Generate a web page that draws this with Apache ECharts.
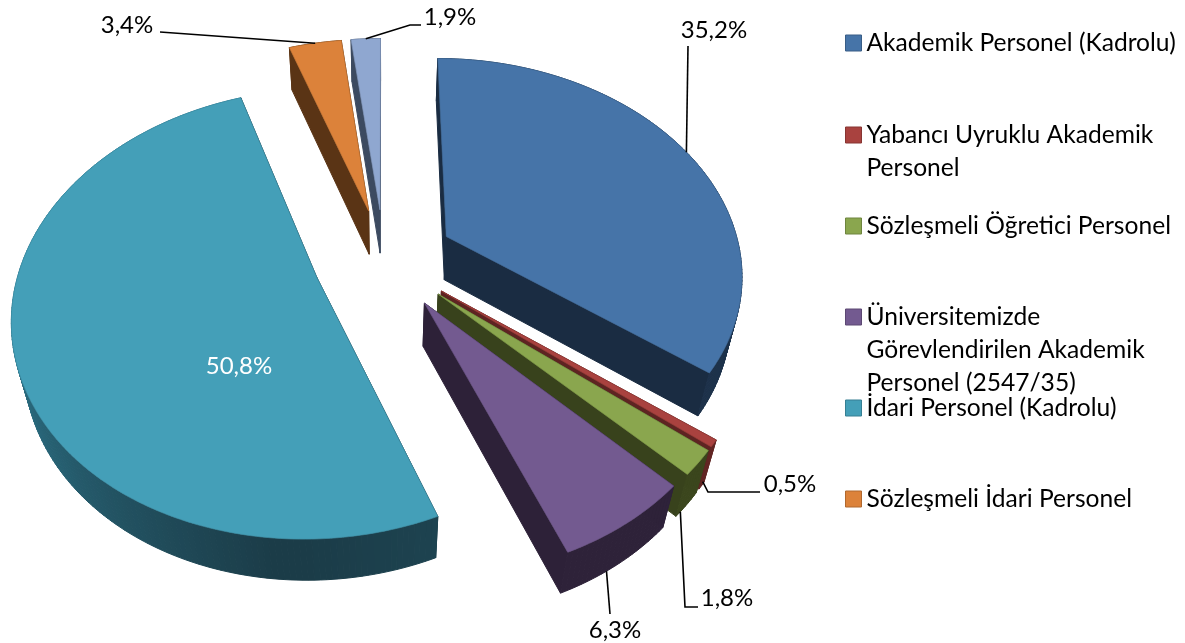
<!DOCTYPE html>
<html><head><meta charset="utf-8">
<style>html,body{margin:0;padding:0;background:#fff}#c{width:1185px;height:643px}</style>
<script src="https://cdn.jsdelivr.net/npm/echarts@6/dist/echarts.min.js"></script>
</head><body><div id="c"></div>
<script>
const categories = ['Akademik Personel (Kadrolu)','Yabancı Uyruklu Akademik\nPersonel','Sözleşmeli Öğretici Personel','Üniversitemizde\nGörevlendirilen Akademik\nPersonel (2547/35)','İdari Personel (Kadrolu)','Sözleşmeli İdari Personel','Diğer Personel'];
const shares = [35.2,0.5,1.8,6.3,50.8,3.4,1.9];
const topColors = ['#4674a8','#a9423f','#8aa64e','#735a90','#449fb8','#dc823a','#8fa7d0'];
const wallColors = ['#1a2c42','#5e2422','#38421c','#2d2138','#1b3c48','#5a3415','#3c4a60'];
const rimColors = ['#24405f','#6e2a28','#46521f','#33263f','#2f7a90','#6a3e18','#46566f'];
const legendRows = [43,135,226,317,408,499];
const drawOrder = [6,5,4,0,1,2,3];
const FONT = 'Lato, "Open Sans", sans-serif';
const cam = {cx:384,cy:259,f:1327,xs:0.979,D:4.4,tilt:45*Math.PI/180,explode:0.24,h:0.21};
const st=Math.sin(cam.tilt), ct=Math.cos(cam.tilt);
const total = shares.reduce((a,b)=>a+b,0);
const startOf = i => shares.slice(0,i).reduce((a,b)=>a+b,0);
function P(X,Y,Z){const w=cam.D+Y*ct-Z*st;return [cam.cx+cam.xs*cam.f*X/w,cam.cy-cam.f*(Y*st+Z*ct)/w];}
function mix(a,b,t){const p=c=>[1,3,5].map(k=>parseInt(c.substr(k,2),16));const A=p(a),B=p(b);return 'rgb('+A.map((v,i)=>Math.round(v+(B[i]-v)*t)).join(',')+')';}
const pct = v => v.toFixed(1).replace('.',',')+'%';
const labelSpecs = {
 0:{text:[714,30],elbows:[[688,46]],at:[0.505,1,0]},
 1:{text:[790,484],elbows:[[708,492],[760,492]],at:[0.5,1,-0.9]},
 2:{text:[727,598],elbows:[[685,607],[698,607]],at:[0.8,1,-1]},
 3:{text:[615,630],elbows:[[610,614]],at:[0.6,1,-1]},
 4:{text:[239,366],white:true},
 5:{text:[127,25],elbows:[[160,32]],at:[0.5,1,0]},
 6:{text:[450,17],elbows:[[410,25],[421,25]],at:[0.5,1,0]}
};
function renderSlice(params,api){
  const idx = api.value(1);
  const v = api.value(0), s0 = api.value(2);
  const a0 = s0/total*2*Math.PI, a1=(s0+v)/total*2*Math.PI, mid=(a0+a1)/2;
  const ox=cam.explode*Math.sin(mid), oy=cam.explode*Math.cos(mid);
  const pt=(a,r,z)=>P(ox+r*Math.sin(a),oy+r*Math.cos(a),z);
  const n=Math.max(2,Math.ceil((a1-a0)/(Math.PI/180)));
  const A=[];for(let i=0;i<=n;i++)A.push(a0+(a1-a0)*i/n);
  const H=-cam.h, kids=[];
  const poly=(pts,fill)=>({type:'polygon',shape:{points:pts},style:{fill:fill,stroke:fill,lineWidth:1,lineJoin:'round'}});
  const walls=[];
  walls.push({d:Math.cos(a0)*0.5,el:poly([pt(a0,0,0),pt(a0,1,0),pt(a0,1,H),pt(a0,0,H)],wallColors[idx])});
  walls.push({d:Math.cos(a1)*0.5,el:poly([pt(a1,0,0),pt(a1,1,0),pt(a1,1,H),pt(a1,0,H)],wallColors[idx])});
  for(let i=0;i<n;i++){
    const am=(A[i]+A[i+1])/2;
    const deg=am*180/Math.PI;
    const t = deg<180 ? Math.min(1,Math.max(0,(180-deg)/120))*0.6 : Math.min(1,Math.max(0,(deg-185)/80));
    walls.push({d:Math.cos(am),el:poly([pt(A[i],1,0),pt(A[i+1],1,0),pt(A[i+1],1,H),pt(A[i],1,H)],mix(wallColors[idx],rimColors[idx],t))});
  }
  walls.sort((p,q)=>q.d-p.d).forEach(w=>kids.push(w.el));
  const top=[pt(a0,0,0)];A.forEach(a=>top.push(pt(a,1,0)));
  kids.push({type:'polygon',shape:{points:top},style:{fill:topColors[idx],stroke:mix(topColors[idx],'#000000',0.08),lineWidth:0.7,lineJoin:'round'}});
  const spec=labelSpecs[idx];
  if(spec.elbows){
    const f=spec.at, a=a0+(a1-a0)*f[0];
    const start=pt(a,f[1],f[2]*cam.h);
    kids.push({type:'polyline',shape:{points:[start].concat(spec.elbows)},style:{fill:'none',stroke:'#000',lineWidth:1.6}});
  }
  kids.push({type:'text',style:{text:pct(v),x:spec.text[0],y:spec.text[1],align:'center',verticalAlign:'middle',fill:spec.white?'#fff':'#000',font:'24px '+FONT}});
  return {type:'group',children:kids};
}
const series = drawOrder.map(i=>({
  type:'custom',name:categories[i],coordinateSystem:'none',silent:true,
  itemStyle:{color:topColors[i]},renderItem:renderSlice,
  encode:{},data:[[shares[i],i,startOf(i)]]
}));
const L=33;
const legend = legendRows.map((y,i)=>{
  const lines=categories[i].split('\n').length, Hh=(lines-1)*L+16;
  return {show:true,data:[categories[i]],left:845,top:y-L/2,orient:'vertical',padding:0,itemGap:0,itemWidth:16,itemHeight:Hh,
    icon:'path://M0 0H16V16H0Z M0 '+Hh+'L0 '+Hh,
    itemStyle:{borderColor:mix(topColors[i],'#000000',0.2),borderWidth:1},
    textStyle:{color:'#000',fontFamily:'Lato, "Open Sans", sans-serif',fontSize:24.6,lineHeight:L,padding:0},selectedMode:false};
});
const chart=echarts.init(document.getElementById('c'));
chart.setOption({animation:false,backgroundColor:'#fff',tooltip:{show:false},legend:legend,series:series});
</script></body></html>
